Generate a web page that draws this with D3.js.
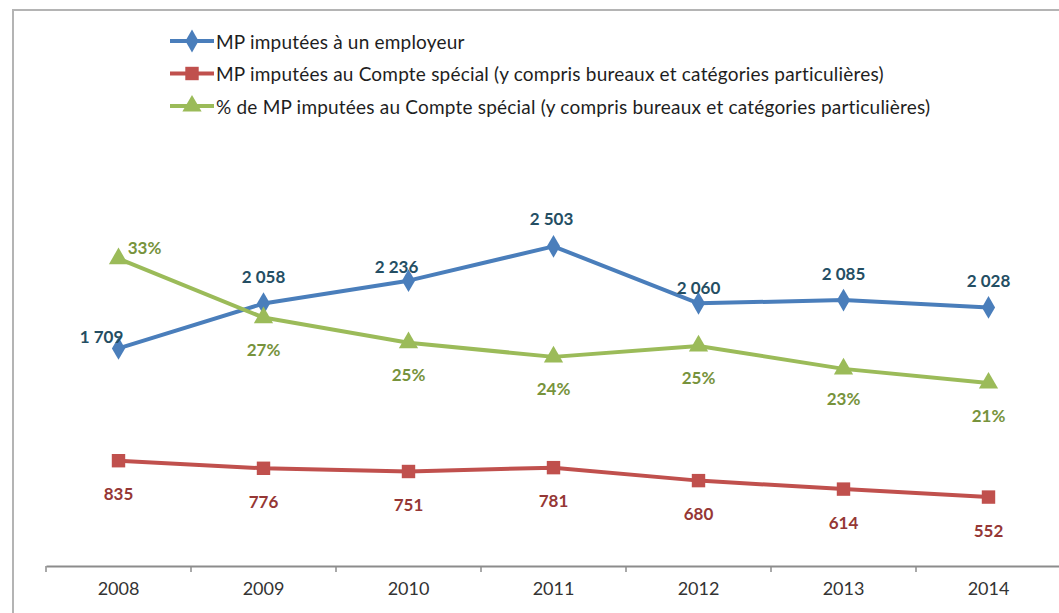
<!DOCTYPE html>
<html>
<head>
<meta charset="utf-8">
<script src="https://cdn.jsdelivr.net/npm/d3@7"></script>
<style>
  body { margin: 0; background: #fff; }
  svg { display: block; font-family: Lato, "Open Sans", sans-serif; }
</style>
</head>
<body>
<svg id="chart" width="1059" height="613"></svg>
<script>
// données
var years = ["2008", "2009", "2010", "2011", "2012", "2013", "2014"];
var employeur = [1709, 2058, 2236, 2503, 2060, 2085, 2028];
var compteSpecial = [835, 776, 751, 781, 680, 614, 552];
var pctCompte = [0.328, 0.274, 0.251, 0.238, 0.248, 0.227, 0.214];
var seriesNames = [
  "MP imputées à un employeur",
  "MP imputées au Compte spécial (y compris bureaux et catégories particulières)",
  "% de MP imputées au Compte spécial (y compris bureaux et catégories particulières)"
];

var svg = d3.select("#chart");

// cadre
svg.append("path")
  .attr("d", "M13,613 L13,10 L1059,10")
  .attr("fill", "none")
  .attr("stroke", "#b4b4b4")
  .attr("stroke-width", 2);

var x = d3.scaleBand().domain(years).range([46, 1061]);
var y = d3.scaleLinear().domain([0, 4000]).range([568, 54]);
var y2 = d3.scaleLinear().domain([0.05, 0.5]).range([562, 71]);
var cx = function(d, i) { return x(years[i]) + x.bandwidth() / 2; };

// axe des X
var xAxis = svg.append("g")
  .attr("transform", "translate(0,566)")
  .call(d3.axisBottom(x).tickSize(0).tickPadding(16));
xAxis.select(".domain").attr("stroke", "#8c8c8c").attr("stroke-width", 2);
xAxis.selectAll("text").attr("font-size", 18).attr("fill", "#333")
  .attr("font-family", "Lato, sans-serif");
xAxis.selectAll(".bound")
  .data(years)
  .enter().append("line")
  .attr("x1", function(d) { return x(d); })
  .attr("x2", function(d) { return x(d); })
  .attr("y1", 0).attr("y2", 6)
  .attr("stroke", "#8c8c8c").attr("stroke-width", 1.5);

var colors = ["#4a7ebb", "#c0504d", "#9bbb59"];
var labelColors = ["#244e63", "#953735", "#77933c"];

function drawLine(vals, scale, color) {
  var line = d3.line()
    .x(function(d, i) { return cx(d, i); })
    .y(function(d) { return scale(d); });
  svg.append("path")
    .datum(vals)
    .attr("d", line)
    .attr("fill", "none")
    .attr("stroke", color)
    .attr("stroke-width", 4)
    .attr("stroke-linejoin", "round");
}

drawLine(employeur, y, colors[0]);
drawLine(compteSpecial, y, colors[1]);
drawLine(pctCompte, y2, colors[2]);

var diamond = d3.symbol().type(d3.symbolDiamond).size(150);
var square = d3.symbol().type(d3.symbolSquare).size(180);
var triangle = d3.symbol().type(d3.symbolTriangle).size(160);

function drawMarkers(vals, scale, sym, color) {
  svg.append("g").selectAll("path")
    .data(vals)
    .enter().append("path")
    .attr("d", sym)
    .attr("fill", color)
    .attr("transform", function(d, i) {
      return "translate(" + cx(d, i) + "," + scale(d) + ")";
    });
}
drawMarkers(employeur, y, diamond, colors[0]);
drawMarkers(compteSpecial, y, square, colors[1]);
drawMarkers(pctCompte, y2, triangle, colors[2]);

// étiquettes
var fmtNum = function(v) { return d3.format(",")(v).replace(",", " "); };
var fmtPct = d3.format(".0%");
var blueNudge = [[-17, -12], [0, -27], [-12, -14], [-2, -28], [0, -16], [0, -27], [0, -27]];
var greenNudge = [[26, -11], [0, 32], [0, 32], [0, 32], [0, 32], [0, 30], [0, 32]];

function drawLabels(vals, scale, fmt, nudge, color) {
  svg.append("g").selectAll("text")
    .data(vals)
    .enter().append("text")
    .attr("x", function(d, i) { return cx(d, i) + nudge(i)[0]; })
    .attr("y", function(d, i) { return scale(d) + nudge(i)[1]; })
    .attr("text-anchor", "middle")
    .attr("dominant-baseline", "central")
    .attr("font-size", 17)
    .attr("font-weight", "bold")
    .attr("fill", color)
    .text(fmt);
}
drawLabels(employeur, y, fmtNum, function(i) { return blueNudge[i]; }, labelColors[0]);
drawLabels(compteSpecial, y, fmtNum, function(i) { return [0, 33]; }, labelColors[1]);
drawLabels(pctCompte, y2, fmtPct, function(i) { return greenNudge[i]; }, labelColors[2]);

// légende
var syms = [diamond, square, triangle];
var leg = svg.append("g").selectAll("g")
  .data(seriesNames)
  .enter().append("g")
  .attr("transform", function(d, i) { return "translate(170," + (41 + i * 32.5) + ")"; });
leg.append("line")
  .attr("x1", 0).attr("x2", 44)
  .attr("stroke", function(d, i) { return colors[i]; })
  .attr("stroke-width", 4);
leg.append("path")
  .attr("d", function(d, i) { return syms[i](); })
  .attr("transform", "translate(22,0)")
  .attr("fill", function(d, i) { return colors[i]; });
leg.append("text")
  .attr("x", 46)
  .attr("dominant-baseline", "central")
  .attr("font-size", 19)
  .attr("letter-spacing", 0.2)
  .attr("fill", "#1e1e1e")
  .text(function(d) { return d; });
</script>
</body>
</html>
